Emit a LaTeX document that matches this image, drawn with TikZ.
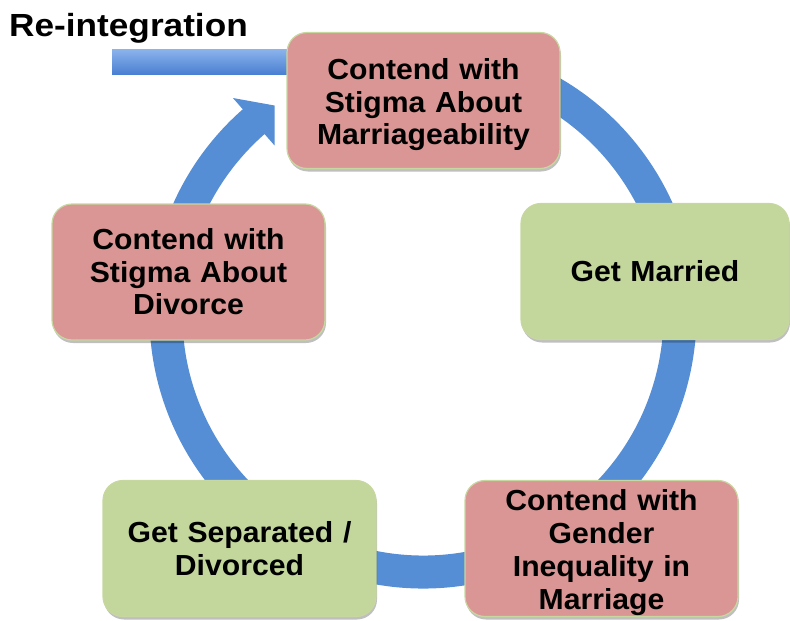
\documentclass[tikz,border=0pt]{standalone}
\usepackage{fontspec}
\setmainfont{Liberation Sans}
\newfontfamily\boxfont{Liberation Sans}[FakeStretch=1.04]
\newfontfamily\titlefont{Liberation Sans}[FakeStretch=1.1]
\usetikzlibrary{shadows,calc}
\definecolor{ringblue}{HTML}{558ED5}
\definecolor{pinkfill}{HTML}{D99694}
\definecolor{greenfill}{HTML}{C3D69B}
\definecolor{boxline}{HTML}{C6D7A0}
\definecolor{bartop}{HTML}{8CB4EC}
\definecolor{barbot}{HTML}{4A80D2}
\begin{document}
\begin{tikzpicture}[x=1pt,y=-1pt,
  stagebox/.style={rounded corners=20pt, draw=boxline, line width=1.2pt,
    minimum width=273pt, minimum height=136pt, text width=262pt, align=center,
    font=\boxfont\fontsize{29}{32.5}\selectfont\bfseries, inner sep=0pt,
    drop shadow={shadow xshift=1pt, shadow yshift=-3pt, opacity=0.25, fill=black}},
  pinkbox/.style={stagebox, fill=pinkfill},
  greenbox/.style={stagebox, fill=greenfill},
  lowertext/.style={text height=30pt},
  titletext/.style={anchor=base west, font=\titlefont\fontsize{32}{36}\selectfont\bfseries, inner sep=0pt}]
\useasboundingbox (0,0) rectangle (790,621);
\coordinate (ringc) at (423,315);
% cycle ring
\draw[ringblue, line width=33pt] (ringc) ++(-80:257) arc[start angle=-80, end angle=229, radius=257];
\fill[ringblue] (232.9,98.0) -- (274.5,105.5) -- (274.5,145.4) -- cycle;
% bar
\shade[top color=bartop, bottom color=barbot] (112,49) rectangle (292,74);
% boxes
\node[pinkbox, lowertext] (marr) at (423.5,100.5) {Contend with\\Stigma About\\Marriageability};
\node[greenbox, minimum width=268pt] (wed) at (655,271.5) {Get Married};
\node[pinkbox, lowertext, font=\boxfont\fontsize{29}{33}\selectfont\bfseries] (gender) at (601.5,548.5) {Contend with\\Gender\\Inequality in\\Marriage};
\node[greenbox] (sep) at (239.5,548.5) {Get Separated /\\Divorced};
\node[pinkbox] (div) at (188.5,272) {Contend with\\Stigma About\\Divorce};
\node[titletext] (title) at (9,36) {Re-integration};
\end{tikzpicture}
\end{document}
